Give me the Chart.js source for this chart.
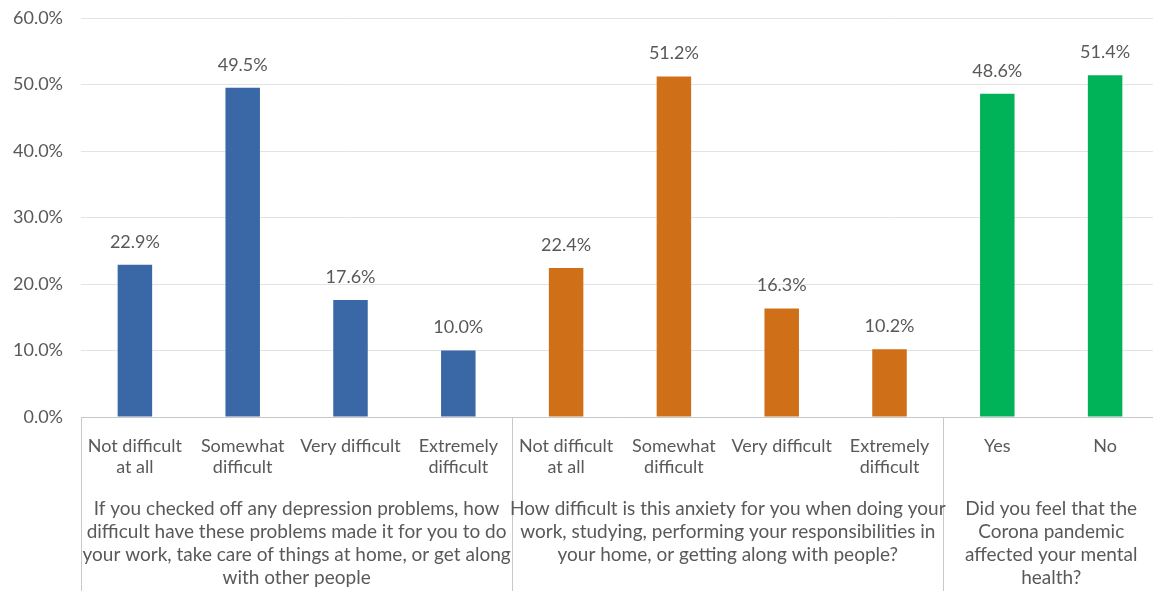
<!DOCTYPE html>
<html lang="en">
<head>
  <meta charset="UTF-8">
  <title>Depression, anxiety and the Corona pandemic</title>
  <script src="https://cdn.jsdelivr.net/npm/chart.js"></script>
  <style>
    html, body { margin: 0; padding: 0; background: #fff; overflow: hidden; }
    #wrap { width: 1159px; height: 591px; position: relative; }
  </style>
</head>
<body>
  <div id="wrap"><canvas id="grafica"></canvas></div>

  <script>
    // categories and values
    var categorias = [
      ['Not difficult', 'at all'], ['Somewhat', 'difficult'], ['Very difficult'], ['Extremely', 'difficult'],
      ['Not difficult', 'at all'], ['Somewhat', 'difficult'], ['Very difficult'], ['Extremely', 'difficult'],
      ['Yes'], ['No']
    ];
    var valores = [22.9, 49.5, 17.6, 10.0, 22.4, 51.2, 16.3, 10.2, 48.6, 51.4];
    var colores = ['#3A67A6', '#3A67A6', '#3A67A6', '#3A67A6',
                   '#CF6F17', '#CF6F17', '#CF6F17', '#CF6F17',
                   '#00B358', '#00B358'];

    // group titles under the axis: first / last category index of each group
    var grupos = [
      { desde: 0, hasta: 3, texto: ['If you checked off any depression problems, how',
        'difficult have these problems made it for you to do',
        'your work, take care of things at home, or get along',
        'with other people'] },
      { desde: 4, hasta: 7, texto: ['How difficult is this anxiety for you when doing your',
        'work, studying, performing your responsibilities in',
        'your home, or getting along with people?'] },
      { desde: 8, hasta: 9, texto: ['Did you feel that the', 'Corona pandemic',
        'affected your mental', 'health?'] }
    ];

    var yTicks = [0, 10, 20, 30, 40, 50, 60];

    var fuente = "Lato, sans-serif";
    var tam = 18;
    var gris = '#595959';

    // value labels above bars
    var etiquetas = {
      id: 'etiquetas',
      afterDatasetsDraw: function (chart) {
        var ctx = chart.ctx;
        var meta = chart.getDatasetMeta(0);
        ctx.save();
        ctx.font = tam + 'px ' + fuente;
        ctx.fillStyle = gris;
        ctx.textAlign = 'center';
        ctx.textBaseline = 'middle';
        meta.data.forEach(function (bar, i) {
          ctx.fillText(valores[i].toFixed(1) + '%', bar.x, bar.y - 23);
        });
        ctx.restore();
      }
    };

    // group separators and group titles
    var gruposPlugin = {
      id: 'grupos',
      afterDraw: function (chart) {
        var ctx = chart.ctx;
        var x = chart.scales.x;
        var area = chart.chartArea;
        var paso = x.getPixelForValue(1) - x.getPixelForValue(0);
        ctx.save();
        ctx.strokeStyle = '#c8c8c8';
        ctx.lineWidth = 1;
        ctx.font = '19px ' + fuente;
        ctx.fillStyle = gris;
        ctx.textAlign = 'center';
        ctx.textBaseline = 'middle';
        grupos.forEach(function (g, k) {
          var x0 = x.getPixelForValue(g.desde) - paso / 2;
          var x1 = x.getPixelForValue(g.hasta) + paso / 2;
          var lineas = [x1];
          if (k === 0) lineas.unshift(x0);
          lineas.forEach(function (px) {
            px = Math.round(px) + 0.5;
            ctx.beginPath();
            ctx.moveTo(px, area.bottom);
            ctx.lineTo(px, chart.height);
            ctx.stroke();
          });
          var cx = (x0 + x1) / 2;
          g.texto.forEach(function (t, j) {
            ctx.fillText(t, cx, 509 + j * 23);
          });
        });
        ctx.restore();
      }
    };

    new Chart(document.getElementById('grafica'), {
      type: 'bar',
      data: {
        labels: categorias,
        datasets: [{
          data: valores,
          backgroundColor: colores,
          barPercentage: 0.64,
          categoryPercentage: 0.5
        }]
      },
      options: {
        responsive: true,
        maintainAspectRatio: false,
        animation: false,
        layout: { padding: { top: 18, right: 0, left: 0, bottom: 0 } },
        plugins: {
          legend: { display: false },
          tooltip: { enabled: false }
        },
        scales: {
          x: {
            grid: { display: false },
            border: { color: '#c8c8c8' },
            ticks: {
              color: gris,
              font: { family: fuente, size: tam, lineHeight: 21 / tam },
              padding: 11,
              maxRotation: 0,
              autoSkip: false
            },
            afterFit: function (s) { s.height = 174; }
          },
          y: {
            min: 0,
            max: 60,
            afterBuildTicks: function (s) {
              s.ticks = yTicks.map(function (v) { return { value: v }; });
            },
            grid: { color: '#e3e3e3', drawTicks: false },
            border: { display: false },
            ticks: {
              color: gris,
              font: { family: fuente, size: tam },
              padding: 18,
              callback: function (v) { return v.toFixed(1) + '%'; }
            },
            afterFit: function (s) {
              s.width = 81;
              s.paddingTop = 0;
              s.paddingBottom = 0;
            }
          }
        }
      },
      plugins: [etiquetas, gruposPlugin]
    });
  </script>
</body>
</html>
